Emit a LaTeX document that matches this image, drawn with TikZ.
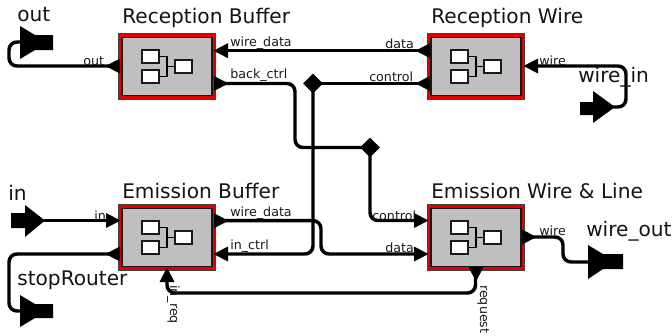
\documentclass[tikz,border=0pt]{standalone}
\usepackage{fontspec}
\setmainfont{DejaVu Sans}
\usetikzlibrary{shapes.geometric}
\tikzset{
  wirepath/.style={line width=2.6pt,rounded corners=6pt,black},
  bigtxt/.style={font=\fontsize{15.1}{15.1}\selectfont,anchor=base west,inner sep=0pt,text=black!92},
  smalltxt/.style={font=\fontsize{9.5}{9.5}\selectfont,anchor=base west,inner sep=0pt,text=black!90},
  blockouter/.style={draw=black!75,line width=.8pt,fill=red!90!black,minimum width=73pt,minimum height=49pt,inner sep=0pt},
  blockinner/.style={draw=black!90,line width=1pt,fill=black!25,minimum width=67.5pt,minimum height=43.5pt,inner sep=0pt},
  iconbox/.style={draw=black!90,line width=1.2pt,fill=white,minimum width=12.5pt,minimum height=9.8pt,inner sep=0pt},
  iconline/.style={draw=black,line width=1.2pt},
  junction/.style={fill=black,diamond,inner sep=0pt,minimum size=15pt}
}
\newcommand{\blockat}[3]{%
  \node[blockouter] (#1) at (#2,#3) {};
  \node[blockinner] (#1i) at (#1.center) {};
  \node[iconbox] (#1a) at ([xshift=-12.4pt,yshift=7.4pt]#1.center) {};
  \node[iconbox] (#1b) at ([xshift=-12.4pt,yshift=-7.4pt]#1.center) {};
  \node[iconbox] (#1c) at ([xshift=12.4pt]#1.center) {};
  \draw[iconline] (#1a.east) -- ([yshift=7.4pt]#1.center) -- ([yshift=-7.4pt]#1.center) -- (#1b.east);
  \draw[iconline] (#1.center) -- (#1c.west);
}
% triangle whose base is at #1, pointing along canvas angle #2
\newcommand{\porttri}[2]{\fill[black,shift={(#1)},rotate=#2] (0,-7.5) -- (14.5,0) -- (0,7.5) -- cycle;}
\begin{document}
\begin{tikzpicture}[x=.75pt,y=-.75pt]
\useasboundingbox (0,0) rectangle (672,336);
\fill[white] (0,0) rectangle (672,336);
\blockat{rb}{167}{66.5}
\blockat{rw}{476}{66.5}
\blockat{eb}{167}{237.5}
\blockat{ew}{476}{237.5}
% port coordinates (on the block edges)
\coordinate (rbout) at (120,66);
\coordinate (rbdata) at (228,50.7);
\coordinate (rbctrl) at (214,83.5);
\coordinate (rwdata) at (430,50.7);
\coordinate (rwctrl) at (430,83.5);
\coordinate (rwwire) at (538,66);
\coordinate (ebin) at (106,220.5);
\coordinate (ebstop) at (120,254);
\coordinate (ebdata) at (214,220.7);
\coordinate (ebctrl) at (228,254);
\coordinate (ebreq) at (167,282);
\coordinate (ewctrl) at (414,220.5);
\coordinate (ewdata) at (414,254);
\coordinate (ewwire) at (522,237);
\coordinate (ewreq) at (476,267);
\coordinate (outend) at (22,42);
\coordinate (wireinend) at (613,107);
\coordinate (inend) at (43,220.5);
\coordinate (stopend) at (22,311);
\coordinate (wireoutend) at (590,262);
\node[junction] (j1) at (313,83.5) {};
\node[junction] (j2) at (370,147.5) {};
% wires
\draw[wirepath] (rbout) -- (9,66) -- (9,42) -- (outend);
\draw[wirepath] (rbdata) -- (rwdata);
\draw[wirepath] (rbctrl) -- (295,83.5) -- (295,147.5) -- (j2.center);
\draw[wirepath] (j2.center) -- (370,220.5) -- (ewctrl);
\draw[wirepath] (rwctrl) -- (j1.center);
\draw[wirepath] (j1.center) -- (313,254) -- (ebctrl);
\draw[wirepath] (ebdata) -- (321,220.7) -- (321,254) -- (ewdata);
\draw[wirepath] (rwwire) -- (626,66) -- (626,107) -- (wireinend);
\draw[wirepath] (inend) -- (ebin);
\draw[wirepath] (ebstop) -- (9,254) -- (9,311) -- (stopend);
\draw[wirepath] (ebreq) -- (167,293) -- (475.5,293) -- (475.5,278);
\draw[wirepath] (ewwire) -- (563,237) -- (563,262) -- (wireoutend);
% ports
\porttri{rbout}{180}
\porttri{rbdata}{180}
\porttri{rbctrl}{0}
\porttri{rwdata}{180}
\porttri{rwctrl}{180}
\porttri{rwwire}{180}
\porttri{ebin}{0}
\porttri{ebstop}{180}
\porttri{ebdata}{0}
\porttri{ebctrl}{180}
\porttri{ebreq}{90}
\porttri{ewctrl}{0}
\porttri{ewdata}{0}
\porttri{ewwire}{0}
\porttri{ewreq}{-90}
% terminals
\fill[black] (20,26) -- (35,35) -- (53,35) -- (53,50) -- (35,50) -- (20,59) -- cycle;
\fill[black] (20,295) -- (35,304) -- (53,304) -- (53,318) -- (35,318) -- (20,327) -- cycle;
\fill[black] (588,245) -- (603,254) -- (623,254) -- (623,269) -- (603,269) -- (588,279) -- cycle;
\fill[black] (580,102) -- (593,102) -- (593,91) -- (615,107) -- (593,123) -- (593,115) -- (580,115) -- cycle;
\fill[black] (11,213) -- (25,213) -- (25,205) -- (45,220.5) -- (25,237) -- (25,228) -- (11,228) -- cycle;
% titles
\node[bigtxt] (t1) at (122,23) {Reception Buffer};
\node[bigtxt] (t2) at (431,23) {Reception Wire};
\node[bigtxt] (t3) at (122,198) {Emission Buffer};
\node[bigtxt] (t4) at (431,198) {Emission Wire \& Line};
\node[bigtxt] (t5) at (17,21) {out};
\node[bigtxt] (t6) at (578,82) {wire\_in};
\node[bigtxt] (t7) at (8,200) {in};
\node[bigtxt] (t8) at (17,285) {stopRouter};
\node[bigtxt] (t9) at (586,236) {wire\_out};
% port labels
\node[smalltxt] (l1) at (83,65) {out};
\node[smalltxt] (l2) at (230,46) {wire\_data};
\node[smalltxt] (l3) at (230,78) {back\_ctrl};
\node[smalltxt] (l4) at (385,48.5) {data};
\node[smalltxt] (l5) at (369,81) {control};
\node[smalltxt] (l6) at (539,65) {wire};
\node[smalltxt] (l7) at (94,220) {in};
\node[smalltxt] (l8) at (230,216) {wire\_data};
\node[smalltxt] (l9) at (230,249) {in\_ctrl};
\node[smalltxt] (l10) at (372,220) {control};
\node[smalltxt] (l11) at (385,252) {data};
\node[smalltxt] (l12) at (539,235) {wire};
\node[smalltxt,rotate=-90] (l13) at (170,285) {in\_req};
\node[smalltxt,rotate=-90] (l14) at (480,285) {request};
\end{tikzpicture}
\end{document}
